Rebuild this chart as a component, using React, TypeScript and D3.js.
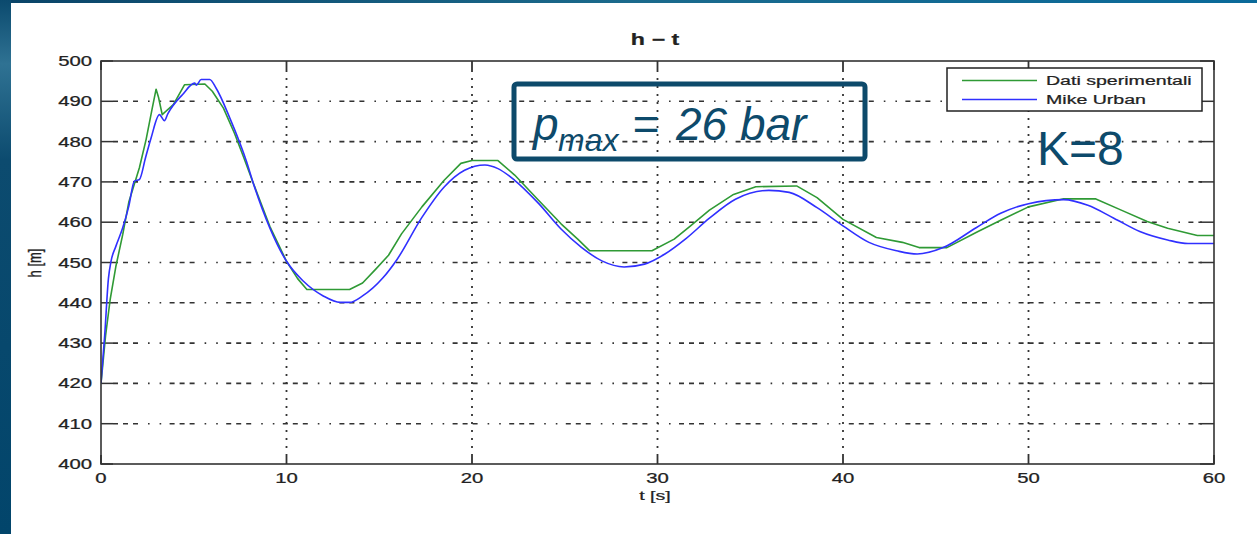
import React from 'react';
import * as d3 from 'd3';

// Dati sperimentali (green) - t [s], h [m]
const tGreen = [0, 0.25, 0.5, 0.8, 1.17, 1.5, 2.07, 2.43, 2.75, 2.97, 3.1, 3.3, 3.9, 4.5, 5.6, 6.0, 6.6, 7.2, 7.7, 8.2, 9.1, 10, 10.6, 11.1, 13.4, 14.1, 14.8, 15.5, 16.2, 17.3, 18.5, 19.4, 20, 21.4, 22.3, 23.6, 24.8, 25.7, 26.35, 29.7, 30.9, 31.7, 32.8, 34.1, 35.3, 37.5, 38.6, 40, 41.8, 43.2, 44.1, 45.6, 47.2, 48.5, 50, 51.9, 53.6, 55, 56.4, 57.5, 59.1, 60];
const hGreen = [420, 432, 441, 449, 456.9, 465, 473.5, 480.5, 488, 493, 491, 486.7, 489.2, 494.1, 494.3, 492.5, 488.3, 482, 476, 469.8, 459, 450.3, 446, 443.3, 443.3, 444.9, 448.3, 451.8, 457.1, 463.8, 470.4, 474.6, 475.3, 475.3, 471.7, 465.4, 459.6, 455.8, 452.9, 452.9, 455.8, 458.8, 463, 466.9, 468.8, 469, 466.1, 460.7, 456.2, 455, 453.7, 453.7, 457.5, 460.5, 463.8, 465.8, 465.8, 463, 460.2, 458.5, 456.7, 456.7];

// Mike Urban (blue)
const tBlue = [0, 0.2, 0.4, 0.54, 0.8, 1.17, 1.5, 1.8, 2.07, 2.4, 2.7, 3.15, 3.42, 3.6, 4.4, 5.05, 5.14, 5.4, 5.86, 6.2, 6.94, 7.84, 8.2, 9.1, 10, 10.9, 11.98, 12.9, 13.4, 14.1, 15.2, 15.95, 17.3, 18.5, 19.6, 20.7, 21.4, 22.3, 23.6, 24.8, 25.9, 27.0, 28.2, 29.3, 30.4, 31.5, 32.8, 34.2, 36, 37.1, 38.6, 40, 41.4, 42.9, 44, 45.4, 47.2, 48.5, 50, 51.9, 53.2, 54.6, 56, 57.5, 58.6, 60];
const hBlue = [420, 432, 446, 450.3, 454, 458.6, 464, 470.2, 470.6, 476, 480.9, 486.7, 485.2, 486.9, 491.7, 494.5, 494, 495.4, 495.4, 493.3, 485.9, 475.1, 469.8, 458.6, 450.3, 445.4, 441.7, 440.1, 440.1, 441.7, 446.2, 450.7, 461.2, 468.75, 472.9, 474.2, 473.3, 470.4, 464.6, 458.3, 453.75, 450.4, 448.9, 449.6, 452.1, 455.8, 461, 465.7, 467.9, 467.4, 463.6, 459.1, 455, 452.9, 452.1, 453.7, 458.7, 462.2, 464.6, 465.6, 464.2, 461, 457.7, 455.6, 454.7, 454.7];

const xTicks = [0, 10, 20, 30, 40, 50, 60];
const yTicks = [400, 410, 420, 430, 440, 450, 460, 470, 480, 490, 500];
const seriesNames = ['Dati sperimentali', 'Mike Urban'];

const W = 1257;
const H = 534;
const FONT = '"Liberation Sans", Arial, Helvetica, sans-serif';
const SX = 1.45; // the slide image is stretched horizontally
const NAVY = '#0d4a6b';
const GREEN = '#2f9a35';
const BLUE = '#3030ff';

const Stretch = ({ x, y, anchor = 'middle', size = 14, weight = 'normal', rotate = 0, children }: any) => (
  <g transform={`translate(${x},${y}) scale(${SX},1)`}>
    <text
      transform={rotate ? `rotate(${rotate})` : undefined}
      textAnchor={anchor}
      fontSize={size}
      fontWeight={weight}
      fontFamily={FONT}
      fill="#222"
      stroke="#222"
      strokeWidth={0.25}
    >
      {children}
    </text>
  </g>
);

export default function App() {
  const x = d3.scaleLinear().domain([0, 60]).range([101, 1214]);
  const y = d3.scaleLinear().domain([400, 500]).range([464, 61]);

  const greenLine = d3
    .line<number>()
    .x((d, i) => x(tGreen[i]))
    .y((d) => y(d))
    .curve(d3.curveLinear);
  const blueLine = d3
    .line<number>()
    .x((d, i) => x(tBlue[i]))
    .y((d) => y(d))
    .curve(d3.curveMonotoneX);

  const [x0, x1] = x.range();
  const [y0, y1] = y.range();

  return (
    <svg width={W} height={H} style={{ position: 'absolute', left: 0, top: 0 }}>
      <defs>
        <linearGradient id="topbar" x1="0" x2="1" y1="0" y2="0">
          <stop offset="0" stopColor="#0a4468" />
          <stop offset="0.5" stopColor="#1b6a8c" />
          <stop offset="1" stopColor="#0a6a9a" />
        </linearGradient>
        <linearGradient id="leftbar" x1="0" x2="0" y1="0" y2="1">
          <stop offset="0" stopColor="#0b4a6e" />
          <stop offset="0.12" stopColor="#2f7293" />
          <stop offset="0.3" stopColor="#0c4b6f" />
          <stop offset="1" stopColor="#02456b" />
        </linearGradient>
        <clipPath id="plotclip">
          <rect x={x0} y={y1} width={x1 - x0} height={y0 - y1} />
        </clipPath>
      </defs>

      {/* slide background */}
      <rect x={0} y={0} width={W} height={H} fill="white" />
      <rect x={0} y={0} width={W} height={3} fill="url(#topbar)" />
      <rect x={0} y={0} width={11} height={H} fill="url(#leftbar)" />

      {/* grid */}
      {yTicks.slice(1, -1).map((v) => (
        <line
          key={'gy' + v}
          x1={x0 + 12}
          x2={x1 - 12}
          y1={y(v)}
          y2={y(v)}
          stroke="#333"
          strokeWidth={1.6}
          strokeDasharray="5,5,5,5,5,10,1.6,10,1.6,8.4"
        />
      ))}
      {xTicks.slice(1, -1).map((v) => (
        <line
          key={'gx' + v}
          x1={x(v)}
          x2={x(v)}
          y1={y1 + 9}
          y2={y0 - 9}
          stroke="#333"
          strokeWidth={1.8}
          strokeDasharray="2,6"
        />
      ))}

      {/* ticks on all four sides */}
      {yTicks.map((v) => (
        <g key={'ty' + v} stroke="#333" strokeWidth={1.5}>
          <line x1={x0} x2={x0 + 12} y1={y(v)} y2={y(v)} />
          <line x1={x1} x2={x1 - 14} y1={y(v)} y2={y(v)} />
        </g>
      ))}
      {xTicks.map((v) => (
        <g key={'tx' + v} stroke="#333" strokeWidth={1.8}>
          <line x1={x(v)} x2={x(v)} y1={y0} y2={y0 - 9} />
          <line x1={x(v)} x2={x(v)} y1={y1} y2={y1 + 9} />
        </g>
      ))}

      {/* series */}
      <g clipPath="url(#plotclip)" fill="none" strokeLinejoin="round">
        <path d={greenLine(hGreen) || ''} stroke={GREEN} strokeWidth={1.6} />
        <path d={blueLine(hBlue) || ''} stroke={BLUE} strokeWidth={1.6} />
      </g>

      {/* axes box */}
      <rect x={x0} y={y1} width={x1 - x0} height={y0 - y1} fill="none" stroke="#333" strokeWidth={1.6} />

      {/* tick labels */}
      {yTicks.map((v) => (
        <Stretch key={'ly' + v} x={92} y={y(v) + 5} anchor="end">
          {v}
        </Stretch>
      ))}
      {xTicks.map((v) => (
        <Stretch key={'lx' + v} x={x(v)} y={483}>
          {v}
        </Stretch>
      ))}

      {/* title and axis labels */}
      <Stretch x={655} y={45} size={16} weight="bold">
        h − t
      </Stretch>
      <Stretch x={655} y={500} size={13.5}>
        t [s]
      </Stretch>
      <Stretch x={41} y={263} size={13} rotate={-90}>
        h [m]
      </Stretch>

      {/* legend */}
      <rect x={947} y={68} width={255} height={43} fill="white" stroke="#222" strokeWidth={1.5} />
      <line x1={962} x2={1037} y1={80.5} y2={80.5} stroke={GREEN} strokeWidth={1.6} />
      <line x1={962} x2={1037} y1={99.5} y2={99.5} stroke={BLUE} strokeWidth={1.6} />
      <Stretch x={1046} y={85} size={13.5} anchor="start">
        {seriesNames[0]}
      </Stretch>
      <Stretch x={1046} y={104} size={13.5} anchor="start">
        {seriesNames[1]}
      </Stretch>

      {/* slide annotations */}
      <rect x={514} y={84} width={351} height={75} rx={3} fill="none" stroke={NAVY} strokeWidth={5} />
      <text y={140} fontFamily={FONT} fontStyle="italic" fontSize={46} fill={NAVY}>
        <tspan x={533}>p</tspan>
        <tspan x={558} dy={11} fontSize={32}>max</tspan>
        <tspan x={632} dy={-11}>=</tspan>
        <tspan x={676}>26 bar</tspan>
      </text>
      <text x={1037} y={165} fontFamily={FONT} fontSize={48} fill={NAVY}>
        K=8
      </text>
    </svg>
  );
}
